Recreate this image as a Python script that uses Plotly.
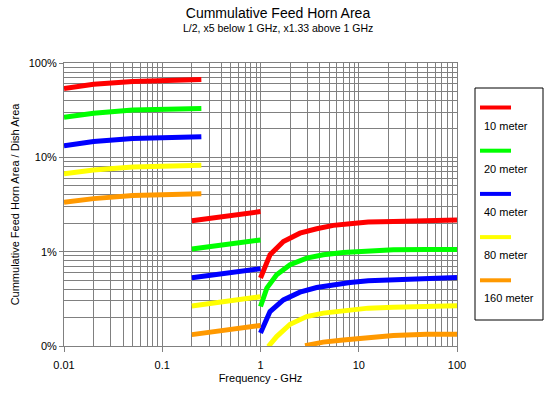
import plotly.graph_objects as go

# ---------------- data (percent of dish area) ----------------
names = ["10 meter", "20 meter", "40 meter", "80 meter", "160 meter"]
colors = ["#FF0000", "#00FF00", "#0000FF", "#FFFF00", "#FF9900"]

# segment A: below 1 GHz, upper group
freq_a = [0.01, 0.02, 0.05, 0.1, 0.25]
red_a = [53.6, 59.5, 63.5, 65.5, 66.8]
green_a = [26.6, 29.3, 31.7, 32.5, 33.0]
blue_a = [13.3, 14.7, 15.8, 16.3, 16.5]
yellow_a = [6.7, 7.35, 7.9, 8.1, 8.25]
orange_a = [3.33, 3.65, 3.95, 4.05, 4.1]

# segment B: 0.2 - 1 GHz
freq_b = [0.2, 0.3, 0.5, 1.0]
red_b = [2.13, 2.25, 2.44, 2.66]
green_b = [1.066, 1.125, 1.22, 1.33]
blue_b = [0.53, 0.562, 0.61, 0.66]
yellow_b = [0.265, 0.281, 0.305, 0.333]
orange_b = [0.132, 0.14, 0.152, 0.165]

# segment C: above 1 GHz
red_c_f = [1.0, 1.25, 1.71, 2.52, 3.73, 5.51, 8.15, 12.5, 22.5, 49.2, 100]
red_c = [0.525, 0.927, 1.28, 1.57, 1.75, 1.90, 1.98, 2.06, 2.09, 2.14, 2.16]
green_c_f = [1.0, 1.16, 1.46, 2.0, 2.95, 4.35, 6.96, 12.5, 22.5, 49.2, 100]
green_c = [0.262, 0.411, 0.569, 0.726, 0.855, 0.927, 0.981, 1.02, 1.05, 1.055, 1.055]
blue_c_f = [1.0, 1.25, 1.71, 2.52, 3.73, 5.51, 8.15, 12.5, 22.5, 49.2, 100]
blue_c = [0.137, 0.232, 0.308, 0.372, 0.417, 0.445, 0.471, 0.491, 0.505, 0.525, 0.532]
yellow_c_f = [1.2, 1.46, 2.0, 2.95, 4.35, 6.96, 12.5, 22.5, 49.2, 100]
yellow_c = [0.0986, 0.126, 0.170, 0.205, 0.223, 0.236, 0.252, 0.258, 0.262, 0.267]
orange_c_f = [2.84, 4.35, 6.96, 12.5, 22.5, 49.2, 100]
orange_c = [0.101, 0.110, 0.116, 0.123, 0.129, 0.133, 0.133]

series_a = [red_a, green_a, blue_a, yellow_a, orange_a]
series_b = [red_b, green_b, blue_b, yellow_b, orange_b]
series_c_f = [red_c_f, green_c_f, blue_c_f, yellow_c_f, orange_c_f]
series_c = [red_c, green_c, blue_c, yellow_c, orange_c]

x_major = [0.01, 0.1, 1, 10, 100]
x_labels = ["0.01", "0.1", "1", "10", "100"]
y_major = [0.1, 1, 10, 100]
y_labels = ["0%", "1%", "10%", "100%"]

# ---------------- figure ----------------
W, H = 556, 393
L, R, T, B = 64, 99, 63, 47
PW, PH = W - L - R, H - T - B


def px2x(px):
    return (px - L) / PW


def py2y(py):
    return (H - B - py) / PH


FONT = "Liberation Sans, Arial, sans-serif"
fig = go.Figure()

for i in range(len(names)):
    xs = freq_a + [None] + freq_b + [None] + series_c_f[i]
    ys = series_a[i] + [None] + series_b[i] + [None] + series_c[i]
    fig.add_trace(go.Scatter(x=xs, y=ys, mode="lines", name=names[i],
                             line=dict(color=colors[i], width=5),
                             showlegend=False, hoverinfo="x+y+name"))


def minor_vals(lo, hi):
    vals = []
    d = lo
    while d < hi:
        for k in range(2, 10):
            vals.append(round(k * d, 6))
        d *= 10
    return vals


grid = "#808080"
fig.update_xaxes(type="log", range=[-2, 2], tickmode="array", tickvals=x_major,
                 ticktext=x_labels, ticks="outside", ticklen=5, tickcolor=grid,
                 showgrid=True, gridcolor=grid, gridwidth=1, automargin=False,
                 showline=True, linecolor=grid, mirror=True, zeroline=False,
                 minor=dict(tickmode="array", tickvals=minor_vals(0.01, 100),
                            showgrid=True, gridcolor=grid, gridwidth=1, ticks=""),
                 ticklabelstandoff=4,
                 title=dict(text="Frequency - GHz", font=dict(size=11, color="black"),
                            standoff=4),
                 tickfont=dict(size=11, color="black"))
fig.update_yaxes(type="log", range=[-1, 2], tickmode="array", tickvals=y_major,
                 ticktext=y_labels, ticks="outside", ticklen=4, tickcolor=grid,
                 showgrid=True, gridcolor=grid, gridwidth=1, automargin=False,
                 showline=True, linecolor=grid, mirror=True, zeroline=False,
                 minor=dict(tickmode="array", tickvals=minor_vals(0.1, 100),
                            showgrid=True, gridcolor=grid, gridwidth=1, ticks=""),
                 title=dict(text="Cummulative Feed Horn Area / Dish Area",
                            font=dict(size=11, color="black"), standoff=6),
                 tickfont=dict(size=11, color="black"))

# custom legend (line sample above label, boxed)
shapes = [dict(type="rect", xref="paper", yref="paper",
               x0=px2x(475), x1=px2x(543), y0=py2y(320), y1=py2y(88),
               line=dict(color="black", width=1), fillcolor="white", layer="below")]
annotations = []
for i, nm in enumerate(names):
    ly = 107.5 + i * 43.2
    shapes.append(dict(type="line", xref="paper", yref="paper",
                       x0=px2x(480), x1=px2x(511), y0=py2y(ly), y1=py2y(ly),
                       line=dict(color=colors[i], width=4)))
    annotations.append(dict(xref="paper", yref="paper", x=px2x(482), y=py2y(ly + 18),
                            xanchor="left", yanchor="middle", showarrow=False,
                            text=nm, font=dict(size=11, color="black", family=FONT)))

annotations.append(dict(xref="paper", yref="paper", x=px2x(278), y=py2y(28),
                        xanchor="center", yanchor="middle", showarrow=False,
                        text="L/2, x5 below 1 GHz, x1.33 above 1 GHz",
                        font=dict(size=10.5, color="black", family=FONT)))

fig.update_layout(
    width=W, height=H, margin=dict(l=L, r=R, t=T, b=B),
    paper_bgcolor="white", plot_bgcolor="white",
    font=dict(family=FONT, size=11, color="black"),
    title=dict(text="Cummulative Feed Horn Area", x=0.5, xref="container",
               xanchor="center", y=1 - 13 / H, yref="container", yanchor="middle",
               font=dict(size=14, color="black", family=FONT)),
    shapes=shapes, annotations=annotations, showlegend=False,
)

fig.write_html("out.html", config={"displayModeBar": False},
               post_script="document.body.style.margin='0';")
